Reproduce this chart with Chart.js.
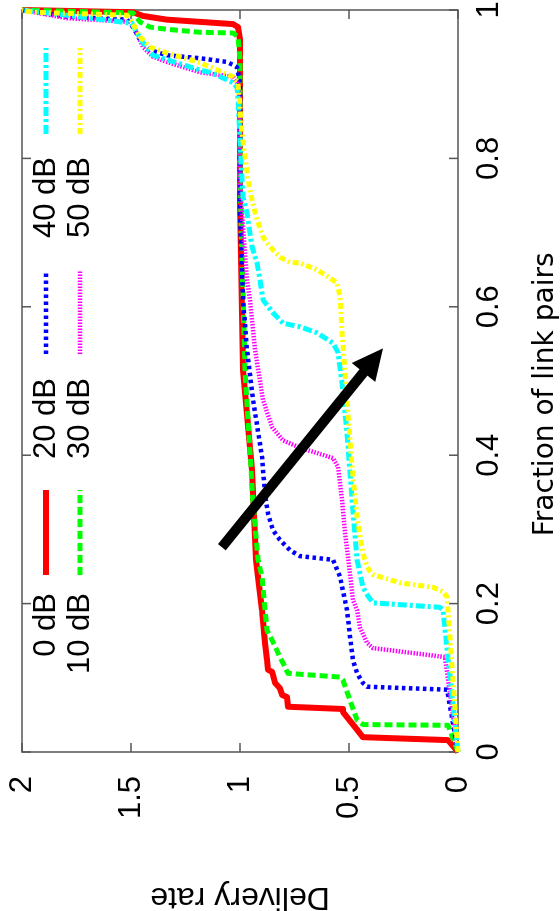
<!DOCTYPE html>
<html lang="en">
<head>
    <meta charset="UTF-8">
    <title>Delivery rate vs fraction of link pairs</title>
    <script src="https://cdn.jsdelivr.net/npm/chart.js@4.4.0/dist/chart.umd.min.js"></script>
    <style>
        html, body {
            margin: 0;
            padding: 0;
            background: #ffffff;
            overflow: hidden;
        }
        /* the figure is drawn upright, then turned a quarter turn to the left */
        #wrap {
            position: absolute;
            left: 0;
            top: 0;
            width: 911px;
            height: 560px;
            transform-origin: 0 0;
            transform: translate(0, 911px) rotate(-90deg);
        }
    </style>
</head>
<body>
    <div id="wrap">
        <canvas id="chart" width="911" height="560"></canvas>
    </div>

    <script>
        const seriesLabels = ['0 dB', '10 dB', '20 dB', '30 dB', '40 dB', '50 dB'];
        const xTicks = [0, 0.2, 0.4, 0.6, 0.8, 1];
        const yTicks = [0, 0.5, 1, 1.5, 2];

        // fraction of link pairs (x) and delivery rate (y) for each curve
        const frac0 = [0, 0.016, 0.020, 0.030, 0.054, 0.058, 0.061, 0.074, 0.077, 0.086, 0.093, 0.108, 0.111, 0.124, 0.147, 0.191, 0.236, 0.259, 0.380, 0.515, 0.744, 0.960, 0.977, 0.981, 0.984, 0.987, 0.992, 0.997, 1.0];
        const rate0 = [0, 0.046, 0.436, 0.463, 0.528, 0.528, 0.780, 0.784, 0.807, 0.817, 0.839, 0.853, 0.872, 0.876, 0.885, 0.899, 0.917, 0.927, 0.945, 0.986, 1.0, 1.0, 1.009, 1.032, 1.183, 1.335, 1.445, 1.491, 2.0];

        const frac10 = [0, 0.036, 0.037, 0.043, 0.097, 0.101, 0.106, 0.120, 0.128, 0.151, 0.164, 0.191, 0.236, 0.259, 0.336, 0.403, 0.470, 0.515, 0.771, 0.933, 0.964, 0.969, 0.970, 0.974, 0.977, 0.984, 0.996, 1.0];
        const rate10 = [0, 0.046, 0.436, 0.463, 0.528, 0.541, 0.780, 0.803, 0.817, 0.853, 0.876, 0.885, 0.899, 0.917, 0.940, 0.954, 0.968, 0.977, 1.0, 1.0, 1.009, 1.032, 1.183, 1.335, 1.413, 1.459, 1.491, 2.0];

        const frac20 = [0, 0.084, 0.088, 0.093, 0.106, 0.124, 0.155, 0.191, 0.236, 0.259, 0.264, 0.272, 0.286, 0.299, 0.322, 0.346, 0.398, 0.474, 0.542, 0.609, 0.726, 0.902, 0.923, 0.926, 0.930, 0.935, 0.939, 0.946, 0.960, 0.977, 0.987, 0.991, 1.0];
        const rate20 = [0, 0.050, 0.417, 0.436, 0.463, 0.482, 0.495, 0.509, 0.541, 0.573, 0.725, 0.771, 0.817, 0.849, 0.872, 0.885, 0.899, 0.940, 0.968, 0.986, 1.0, 1.0, 1.014, 1.032, 1.060, 1.183, 1.335, 1.413, 1.459, 1.491, 1.518, 1.794, 2.0];

        const frac30 = [0, 0.128, 0.140, 0.147, 0.168, 0.191, 0.205, 0.239, 0.295, 0.340, 0.384, 0.396, 0.403, 0.410, 0.420, 0.438, 0.474, 0.542, 0.609, 0.636, 0.726, 0.771, 0.879, 0.902, 0.910, 0.916, 0.930, 0.937, 0.950, 0.969, 0.984, 0.989, 1.0];
        const rate30 = [0, 0.060, 0.390, 0.417, 0.450, 0.463, 0.482, 0.495, 0.518, 0.532, 0.550, 0.573, 0.647, 0.725, 0.803, 0.853, 0.894, 0.931, 0.954, 0.968, 0.991, 1.0, 1.0, 1.014, 1.032, 1.183, 1.335, 1.399, 1.445, 1.472, 1.505, 1.794, 2.0];

        const frac40 = [0, 0.191, 0.195, 0.201, 0.212, 0.222, 0.241, 0.259, 0.340, 0.430, 0.497, 0.538, 0.551, 0.565, 0.573, 0.578, 0.592, 0.609, 0.636, 0.659, 0.681, 0.726, 0.748, 0.771, 0.879, 0.896, 0.902, 0.906, 0.916, 0.919, 0.933, 0.939, 0.956, 0.969, 0.982, 0.993, 1.0];
        const rate40 = [0, 0.069, 0.083, 0.390, 0.417, 0.436, 0.450, 0.463, 0.486, 0.509, 0.532, 0.550, 0.573, 0.647, 0.725, 0.803, 0.849, 0.894, 0.908, 0.922, 0.945, 0.968, 0.986, 0.991, 1.009, 1.014, 1.032, 1.060, 1.138, 1.183, 1.335, 1.399, 1.445, 1.472, 1.495, 1.794, 2.0];

        const frac50 = [0, 0.209, 0.216, 0.222, 0.228, 0.239, 0.249, 0.268, 0.317, 0.384, 0.474, 0.565, 0.613, 0.632, 0.636, 0.650, 0.659, 0.660, 0.667, 0.681, 0.694, 0.717, 0.744, 0.771, 0.834, 0.902, 0.910, 0.929, 0.942, 0.950, 0.964, 0.982, 0.993, 0.997, 1.0];
        const rate50 = [0, 0.050, 0.069, 0.115, 0.266, 0.390, 0.417, 0.436, 0.463, 0.486, 0.509, 0.532, 0.541, 0.555, 0.573, 0.647, 0.725, 0.771, 0.817, 0.862, 0.894, 0.922, 0.945, 0.963, 0.991, 1.009, 1.032, 1.183, 1.335, 1.413, 1.459, 1.491, 1.518, 1.950, 2.0];

        const fracs = [frac0, frac10, frac20, frac30, frac40, frac50];
        const rates = [rate0, rate10, rate20, rate30, rate40, rate50];

        const colors = ['#ff0000', '#00ff00', '#0000ff', '#ff00ff', '#00ffff', '#ffff00'];
        const dashes = [[], [8, 4], [3.5, 3.5], [1.5, 1.5], [9, 3, 3, 3], [6, 3, 2, 3]];
        const widths = [6, 5, 4.5, 4.5, 5, 5];

        const pts = (xs, ys) => xs.map((v, i) => ({x: v, y: ys[i]}));

        // box with inward ticks on all four sides
        const frame = {
            id: 'frame',
            beforeDatasetsDraw(chart) {
                const {ctx, chartArea: a, scales: {x, y}} = chart;
                ctx.save();
                ctx.strokeStyle = '#555555';
                ctx.lineWidth = 1.5;
                ctx.strokeRect(a.left, a.top, a.right - a.left, a.bottom - a.top);
                ctx.beginPath();
                xTicks.forEach(v => {
                    const p = x.getPixelForValue(v);
                    ctx.moveTo(p, a.bottom); ctx.lineTo(p, a.bottom - 9);
                    ctx.moveTo(p, a.top); ctx.lineTo(p, a.top + 9);
                });
                yTicks.forEach(v => {
                    const p = y.getPixelForValue(v);
                    ctx.moveTo(a.left, p); ctx.lineTo(a.left + 9, p);
                    ctx.moveTo(a.right, p); ctx.lineTo(a.right - 9, p);
                });
                ctx.stroke();
                ctx.restore();
            }
        };

        // the trend arrow and the key inside the plot
        const extras = {
            id: 'extras',
            afterDatasetsDraw(chart) {
                const {ctx, scales: {x, y}} = chart;
                ctx.save();

                const t = {x: x.getPixelForValue(0.276), y: y.getPixelForValue(1.083)};
                const h = {x: x.getPixelForValue(0.544), y: y.getPixelForValue(0.344)};
                const ang = Math.atan2(h.y - t.y, h.x - t.x);
                const c = Math.cos(ang), s = Math.sin(ang);
                const len = 31, half = 15;
                const bx = h.x - len * c, by = h.y - len * s;
                ctx.strokeStyle = '#000';
                ctx.fillStyle = '#000';
                ctx.lineWidth = 10;
                ctx.lineCap = 'butt';
                ctx.beginPath();
                ctx.moveTo(t.x, t.y);
                ctx.lineTo(bx + 2 * c, by + 2 * s);
                ctx.stroke();
                ctx.beginPath();
                ctx.moveTo(h.x, h.y);
                ctx.lineTo(bx - half * s, by + half * c);
                ctx.lineTo(bx + half * s, by - half * c);
                ctx.closePath();
                ctx.fill();

                // key: two rows, three columns, text then line sample
                const cols = [[318, 336, 421], [533, 557, 640], [754, 777, 863]];
                const rows = [46, 80];
                ctx.font = '31px "Liberation Sans", Arial, sans-serif';
                ctx.textAlign = 'right';
                ctx.textBaseline = 'middle';
                chart.data.datasets.forEach((ds, i) => {
                    const col = cols[Math.floor(i / 2)];
                    const ry = rows[i % 2];
                    ctx.fillStyle = '#000';
                    ctx.fillText(ds.label, col[0], ry);
                    ctx.strokeStyle = ds.borderColor;
                    ctx.lineWidth = ds.borderWidth;
                    ctx.setLineDash(ds.borderDash);
                    ctx.beginPath();
                    ctx.moveTo(col[1], ry);
                    ctx.lineTo(col[2], ry);
                    ctx.stroke();
                });
                ctx.restore();
            }
        };

        new Chart(document.getElementById('chart'), {
            type: 'line',
            data: {
                datasets: seriesLabels.map((lab, i) => ({
                    label: lab,
                    data: pts(fracs[i], rates[i]),
                    borderColor: colors[i],
                    backgroundColor: colors[i],
                    borderWidth: widths[i],
                    borderDash: dashes[i],
                    borderJoinStyle: 'round',
                    pointRadius: 0,
                    tension: 0,
                    fill: false,
                    clip: false,
                    order: seriesLabels.length - i
                }))
            },
            options: {
                responsive: false,
                animation: false,
                events: [],
                layout: {padding: {left: 0, right: 10, top: 22, bottom: 0}},
                plugins: {legend: {display: false}, tooltip: {enabled: false}},
                scales: {
                    x: {
                        type: 'linear',
                        min: 0,
                        max: 1,
                        grid: {display: false, drawTicks: false},
                        border: {display: false},
                        afterBuildTicks: s => { s.ticks = xTicks.map(v => ({value: v})); },
                        afterFit: s => { s.height = 102; s.paddingLeft = 0; s.paddingRight = 0; },
                        ticks: {
                            padding: 13,
                            color: '#000',
                            maxRotation: 0,
                            autoSkip: false,
                            font: {family: '"Liberation Sans", Arial, sans-serif', size: 31},
                            callback: v => String(v)
                        },
                        title: {
                            display: true,
                            // trailing spaces nudge the label off-centre, as in the original
                            text: 'Fraction of link pairs   ',
                            color: '#000',
                            font: {family: '"DejaVu Sans", sans-serif', size: 28, lineHeight: 1},
                            padding: 0
                        }
                    },
                    y: {
                        type: 'linear',
                        min: 0,
                        max: 2,
                        grid: {display: false, drawTicks: false},
                        border: {display: false},
                        afterBuildTicks: s => { s.ticks = yTicks.map(v => ({value: v})); },
                        afterFit: s => { s.width = 159; s.paddingTop = 0; s.paddingBottom = 0; },
                        ticks: {
                            padding: 24,
                            color: '#000',
                            autoSkip: false,
                            font: {family: '"Liberation Sans", Arial, sans-serif', size: 31},
                            callback: v => String(v)
                        },
                        title: {
                            display: true,
                            text: 'Delivery rate',
                            color: '#000',
                            font: {family: '"Liberation Sans", Arial, sans-serif', size: 32, lineHeight: 0.9},
                            padding: 0
                        }
                    }
                }
            },
            plugins: [frame, extras]
        });
    </script>
</body>
</html>
